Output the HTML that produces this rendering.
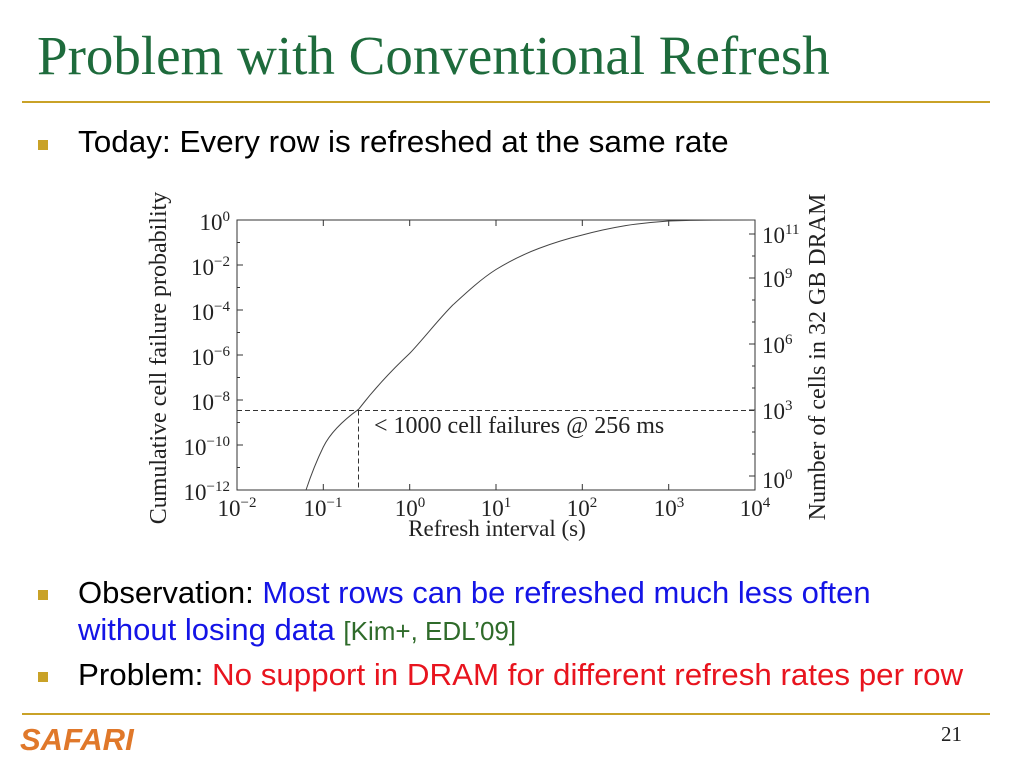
<!DOCTYPE html>
<html><head><meta charset="utf-8"><style>
body{margin:0;width:1024px;height:768px;background:#fff;position:relative;overflow:hidden;font-family:"Liberation Sans",sans-serif}
.t{position:absolute;white-space:nowrap}
.b{position:absolute;width:10px;height:10px;background:#c9a227}
.l{position:absolute;left:22px;width:968px;height:2px;background:#c9a227}
.s{font-size:31px;transform-origin:0 0}
</style></head><body>
<div class="t" style="left:37px;top:24px;font-family:'Liberation Serif',serif;font-size:55px;color:#1e6b3c">Problem with Conventional Refresh</div>
<div class="l" style="top:101px"></div>
<div class="b" style="left:38px;top:140px"></div>
<div class="t s" style="left:78px;top:124px;transform:scaleX(1.015)">Today: Every row is refreshed at the same rate</div>

<svg style="position:absolute;left:0;top:0" width="1024" height="768" font-family="Liberation Serif, serif">
<rect x="237" y="220" width="518" height="270" fill="none" stroke="#333" stroke-width="1"/>
<g stroke="#333" stroke-width="1">
<path d="M237 220h6M237 265h6M237 310h6M237 355h6M237 400h6M237 445h6M237 490h6"/>
<path d="M237 242.5h3M237 287.5h3M237 332.5h3M237 377.5h3M237 422.5h3M237 467.5h3"/>
<path d="M755 234h-6M755 278h-6M755 344h-6M755 410h-6M755 476h-6"/>
<path d="M755 256h-3M755 300h-3M755 322h-3M755 366h-3M755 388h-3M755 432h-3M755 454h-3"/>
<path d="M323.3 490v-6M409.7 490v-6M496 490v-6M582.3 490v-6M668.7 490v-6"/>
<path d="M323.3 220v6M409.7 220v6M496 220v6M582.3 220v6M668.7 220v6"/>
</g>
<path d="M306 490 Q314 466 323.3 447 T358.7 409.2 C375 388 392 370 409.7 353.4 C425 337 438 320 452.8 305 C467 292 481 279 496 269.5 C510 261 524 254 539 248.4 C553 243 568 238.5 582.3 235 C597 231 611 228 625.5 225.6 C640 223.5 654 222 668.7 221 C683 220.5 698 220.2 712 220.1 L755 220" fill="none" stroke="#444" stroke-width="1"/>
<path d="M237 410.5H755M358.5 410.5V490" stroke="#333" stroke-dasharray="5,3" fill="none"/>
<text x="374" y="433" font-size="24" fill="#222">&lt; 1000 cell failures @ 256 ms</text>
<g font-size="23" fill="#222" text-anchor="end">
<text x="230" y="230">10<tspan font-size="15" dy="-9">0</tspan></text>
<text x="230" y="275">10<tspan font-size="15" dy="-9">−2</tspan></text>
<text x="230" y="320">10<tspan font-size="15" dy="-9">−4</tspan></text>
<text x="230" y="365">10<tspan font-size="15" dy="-9">−6</tspan></text>
<text x="230" y="410">10<tspan font-size="15" dy="-9">−8</tspan></text>
<text x="230" y="455">10<tspan font-size="15" dy="-9">−10</tspan></text>
<text x="230" y="500">10<tspan font-size="15" dy="-9">−12</tspan></text>
</g>
<g font-size="23" fill="#222">
<text x="762" y="243">10<tspan font-size="15" dy="-9">11</tspan></text>
<text x="762" y="287">10<tspan font-size="15" dy="-9">9</tspan></text>
<text x="762" y="353">10<tspan font-size="15" dy="-9">6</tspan></text>
<text x="762" y="419">10<tspan font-size="15" dy="-9">3</tspan></text>
<text x="762" y="488">10<tspan font-size="15" dy="-9">0</tspan></text>
</g>
<g font-size="23" fill="#222" text-anchor="middle">
<text x="237" y="516">10<tspan font-size="15" dy="-9">−2</tspan></text>
<text x="323" y="516">10<tspan font-size="15" dy="-9">−1</tspan></text>
<text x="410" y="516">10<tspan font-size="15" dy="-9">0</tspan></text>
<text x="496" y="516">10<tspan font-size="15" dy="-9">1</tspan></text>
<text x="582" y="516">10<tspan font-size="15" dy="-9">2</tspan></text>
<text x="669" y="516">10<tspan font-size="15" dy="-9">3</tspan></text>
<text x="755" y="516">10<tspan font-size="15" dy="-9">4</tspan></text>
</g>
<text x="497" y="536" font-size="23" fill="#222" text-anchor="middle">Refresh interval (s)</text>
<text transform="translate(166,358) rotate(-90)" font-size="24" fill="#222" text-anchor="middle">Cumulative cell failure probability</text>
<text transform="translate(825,357) rotate(-90)" font-size="24" fill="#222" text-anchor="middle">Number of cells in 32 GB DRAM</text>
</svg>

<div class="b" style="left:38px;top:590px"></div>
<div class="t s" style="left:78px;top:575px">Observation: <span style="color:#1414e6">Most rows can be refreshed much less often</span></div>
<div class="t s" style="left:78px;top:612px"><span style="color:#1414e6">without losing data</span> <span style="color:#2f6b2a;font-size:26px">[Kim+, EDL’09]</span></div>
<div class="b" style="left:38px;top:672px"></div>
<div class="t s" style="left:78px;top:657px;transform:scaleX(1.01)">Problem: <span style="color:#e8141e">No support in DRAM for different refresh rates per row</span></div>
<div class="l" style="top:713px"></div>
<div class="t" style="left:20px;top:722px;font-size:31px;font-weight:bold;font-style:italic;color:#e0782a">SAFARI</div>
<div class="t" style="left:941px;top:722px;font-family:'Liberation Serif',serif;font-size:21px;color:#222">21</div>
</body></html>
